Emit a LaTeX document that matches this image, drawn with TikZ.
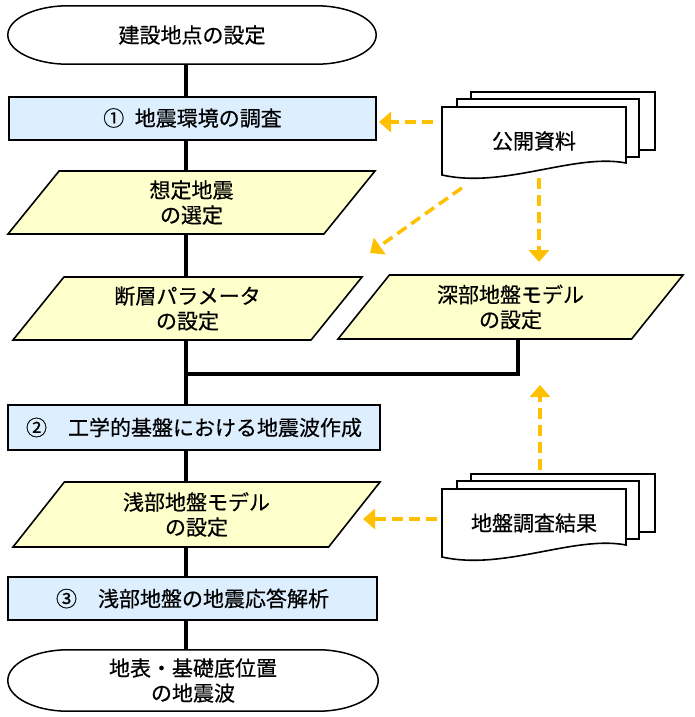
\documentclass[tikz,border=0pt]{standalone}
\usepackage{fontspec}
\setmainfont{Noto Sans CJK JP}[FakeBold=0.5]
\usetikzlibrary{shapes.geometric,arrows.meta,calc,backgrounds}
\definecolor{boxblue}{RGB}{221,238,255}
\definecolor{parayellow}{RGB}{255,255,204}
\definecolor{refgold}{RGB}{255,192,0}

\begin{document}
\begin{tikzpicture}[x=1pt,y=-1pt,
        font=\fontsize{21}{25}\selectfont,
        term/.style={minimum width=368pt,minimum height=58pt,align=center},
        task/.style={draw,line width=2pt,fill=boxblue,minimum height=43pt,inner sep=0pt},
        para/.style={trapezium,trapezium left angle=41,trapezium right angle=139,trapezium stretches body,
            draw,line width=1.6pt,fill=parayellow,minimum height=63pt,align=center,inner sep=0pt},
        doc/.style={minimum width=184pt,minimum height=68pt,inner sep=0pt},
        pagefill/.style={draw=black,fill=white,line width=1.6pt},
        flow/.style={line width=4pt},
        ref/.style={refgold,line width=3.5pt,dash pattern=on 11pt off 6pt,-{Triangle[width=20pt,length=12pt]}}]
        \useasboundingbox (0,0) rectangle (694,717);

        \node[term] (start) at (192,35) {建設地点の設定};
        \node[task,minimum width=367pt] (env) at (192.5,118) {①\hspace{0.5em}地震環境の調査};
        \node[para,minimum width=367pt] (quake) at (191.5,202.5) {想定地震\\の選定};
        \node[para,minimum width=349pt] (fault) at (187.5,308.5) {断層パラメータ\\の設定};
        \node[para,minimum width=345pt,minimum height=64pt] (deep) at (510.5,307) {深部地盤モデル\\の設定};
        \node[task,minimum width=372pt,minimum height=45pt] (wave) at (194,427.5) {②　工学的基盤における地震波作成};
        \node[para,minimum width=367pt,minimum height=65pt] (shallow) at (196.5,514.5) {浅部地盤モデル\\の設定};
        \node[task,minimum width=369pt] (resp) at (192.5,598.5) {③　浅部地盤の地震応答解析};
        \node[term,minimum width=370pt,minimum height=61pt] (goal) at (193,680.5) {地表・基礎底位置\\の地震波};
        \node[doc] (pub) at (534,141) {公開資料};
        \node[doc] (soil) at (534,523) {地盤調査結果};

        \foreach \n in {start,goal}
            \draw[line width=1.5pt] ([xshift=60pt]\n.north west) -- ([xshift=-60pt]\n.north east)
                .. controls ([xshift=-27pt]\n.north east) and ($(\n.north east)!.45!(\n.east)$) .. (\n.east)
                .. controls ($(\n.south east)!.45!(\n.east)$) and ([xshift=-27pt]\n.south east) .. ([xshift=-60pt]\n.south east)
                -- ([xshift=60pt]\n.south west)
                .. controls ([xshift=27pt]\n.south west) and ($(\n.south west)!.45!(\n.west)$) .. (\n.west)
                .. controls ($(\n.north west)!.45!(\n.west)$) and ([xshift=27pt]\n.north west) .. cycle;

        \foreach \n in {pub,soil}{
            \begin{scope}[on background layer,shift={(\n.center)}]
                \path[pagefill] (-63,-49) rectangle (121,9);
                \path[pagefill] (-77,-42) rectangle (105,16);
                \path[pagefill] (-92,-34) -- (92,-34) -- (92,22) .. controls (40,12) and (-30,48) .. (-92,34) -- cycle;
            \end{scope}
        }

        \coordinate (spine) at (186,0);
        \coordinate (join) at (186,374);
        \coordinate (pubtip) at (370,253);
        \foreach \a/\b in {start/env,env/quake,quake/fault,fault/wave,wave/shallow,shallow/resp,resp/goal}
            \draw[flow] (\a.south -| spine) -- (\b.north -| spine);
        \draw[flow] ([xshift=7.5pt,yshift=-32pt]deep.center) |- (join);

        \draw[ref] ([xshift=-9pt,yshift=19pt]pub.west) -- ([xshift=2pt,yshift=-4pt]env.east);
        \draw[ref] ([xshift=20pt,yshift=-47pt]pub.west) -- (pubtip);
        \draw[ref] ([xshift=5pt,yshift=-3pt]pub.south) -- ([xshift=28.5pt,yshift=45pt]deep.center);
        \draw[ref] ([xshift=6pt,yshift=19pt]soil.north) -- ([xshift=29.5pt,yshift=-78pt]deep.center);
        \draw[ref] ([xshift=-5pt,yshift=4pt]soil.west) -- ([xshift=166.5pt,yshift=-4.5pt]shallow.center);
    \end{tikzpicture}
\end{document}
